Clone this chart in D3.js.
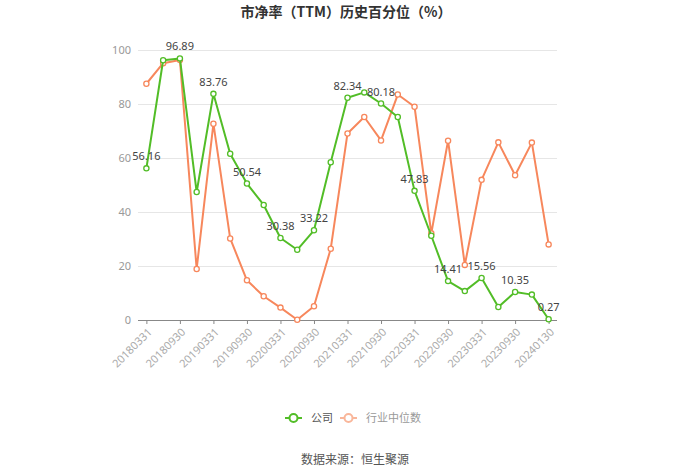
<!DOCTYPE html>
<html>
<head>
<meta charset="utf-8">
<script src="https://cdn.jsdelivr.net/npm/d3@7/dist/d3.min.js"></script>
<style>
  html, body { margin: 0; padding: 0; background: #fff; }
  svg { display: block; font-family: "Noto Sans CJK SC", "Noto Sans", sans-serif; }
</style>
</head>
<body>
<div id="chart"></div>
<script>
const categories = [
  "20180331","20180630","20180930","20181231",
  "20190331","20190630","20190930","20191231",
  "20200331","20200630","20200930","20201231",
  "20210331","20210630","20210930","20211231",
  "20220331","20220630","20220930","20221231",
  "20230331","20230630","20230930","20231231",
  "20240130"
];
const companyValues = [
  56.16, 96.2, 96.89, 47.4, 83.76, 61.6, 50.54, 42.6, 30.38, 26.0, 33.22, 58.4,
  82.34, 84.3, 80.18, 75.2, 47.83, 31.2, 14.41, 10.7, 15.56, 4.8, 10.35, 9.4, 0.27
];
const industryValues = [
  87.5, 95.1, 96.3, 18.9, 72.7, 30.2, 14.7, 8.8, 4.6, 0.1, 5.1, 26.4,
  69.1, 75.2, 66.5, 83.5, 79.0, 32.1, 66.4, 20.4, 51.9, 65.8, 53.6, 65.7, 28.0
];
const yTicks = [0, 20, 40, 60, 80, 100];
const seriesNames = ["公司", "行业中位数"];
const titleText = "市净率（TTM）历史百分位（%）";
const sourceText = "数据来源：恒生聚源";

(function () {
const W = 700, H = 473;
const pLeft = 138, pRight = 557, pTop = 50, pBottom = 320;
const green = "#52bd27", orange = "#f7875c";

const svg = d3.select("#chart").append("svg").attr("width", W).attr("height", H);

const x = d3.scalePoint().domain(categories).range([pLeft, pRight]).padding(0.5);
const y = d3.scaleLinear().domain([0, 100]).range([pBottom, pTop]);

// title
svg.append("text").attr("x", 346).attr("y", 17).attr("text-anchor", "middle")
  .attr("font-size", 14).attr("font-weight", "bold").attr("fill", "#333").text(titleText);

// grid
svg.append("g").selectAll("line").data(yTicks.filter(d => d > 0)).join("line")
  .attr("x1", pLeft).attr("x2", pRight).attr("y1", d => Math.round(y(d)) + 0.5).attr("y2", d => Math.round(y(d)) + 0.5)
  .attr("stroke", "#e6e6e6").attr("stroke-width", 1);

// y axis
const yAxis = svg.append("g").attr("transform", `translate(${pLeft},0)`)
  .call(d3.axisLeft(y).tickValues(yTicks).tickSize(0).tickPadding(7));
yAxis.select(".domain").remove();
yAxis.selectAll("text").attr("fill", "#999").attr("font-size", 11)
  .attr("font-family", "\"Noto Sans\", sans-serif");

// x axis
const xAxis = svg.append("g").attr("transform", `translate(0,${pBottom})`)
  .call(d3.axisBottom(x).tickValues(categories.filter((d, i) => i % 2 === 0)).tickSize(4).tickSizeOuter(0));
xAxis.select(".domain").attr("stroke", "#888").attr("d", `M${pLeft},0.5H${pRight}`);
xAxis.selectAll(".tick line").attr("stroke", "#888");
xAxis.selectAll("text")
  .attr("fill", "#aaa").attr("font-size", 11).attr("font-family", "\"Noto Sans\", sans-serif")
  .attr("text-anchor", "end").attr("dy", "0.35em")
  .attr("transform", "translate(3,10) rotate(-45)").attr("x", 0).attr("y", 0);

// lines
const series = [
  { name: seriesNames[1], values: industryValues, color: orange },
  { name: seriesNames[0], values: companyValues, color: green }
];
const line = d3.line().x((d, i) => x(categories[i])).y(d => y(d));
series.forEach(s => {
  svg.append("path").datum(s.values).attr("d", line)
    .attr("fill", "none").attr("stroke", s.color).attr("stroke-width", 2)
    .attr("stroke-linejoin", "round");
  svg.append("g").selectAll("circle").data(s.values).join("circle")
    .attr("cx", (d, i) => x(categories[i])).attr("cy", d => y(d)).attr("r", 2.6)
    .attr("fill", "#fff").attr("stroke", s.color).attr("stroke-width", 1.3);
});

// labels on company series
svg.append("g").selectAll("text")
  .data(companyValues.map((v, i) => ({ v, i })).filter(d => d.i % 2 === 0)).join("text")
  .attr("x", d => x(categories[d.i])).attr("y", d => y(d.v) - 8)
  .attr("text-anchor", "middle").attr("font-size", 11).attr("fill", "#444")
  .attr("font-family", "\"Noto Sans\", sans-serif")
  .text(d => d.v.toFixed(2));

// legend
const lg = svg.append("g");
const legendItems = [
  { name: seriesNames[0], color: green, text: "#555", x: 285 },
  { name: seriesNames[1], color: "#f9b69a", text: "#999", x: 340 }
];
legendItems.forEach(it => {
  lg.append("line").attr("x1", it.x).attr("x2", it.x + 17).attr("y1", 418).attr("y2", 418)
    .attr("stroke", it.color).attr("stroke-width", 2);
  lg.append("circle").attr("cx", it.x + 8.5).attr("cy", 418).attr("r", 4)
    .attr("fill", "#fff").attr("stroke", it.color).attr("stroke-width", 2);
  lg.append("text").attr("x", it.x + 26).attr("y", 422).attr("font-size", 11)
    .attr("fill", it.text).text(it.name);
});

// source
svg.append("text").attr("x", 355).attr("y", 464).attr("text-anchor", "middle")
  .attr("font-size", 12).attr("fill", "#555").text(sourceText);
})();
</script>
</body>
</html>
